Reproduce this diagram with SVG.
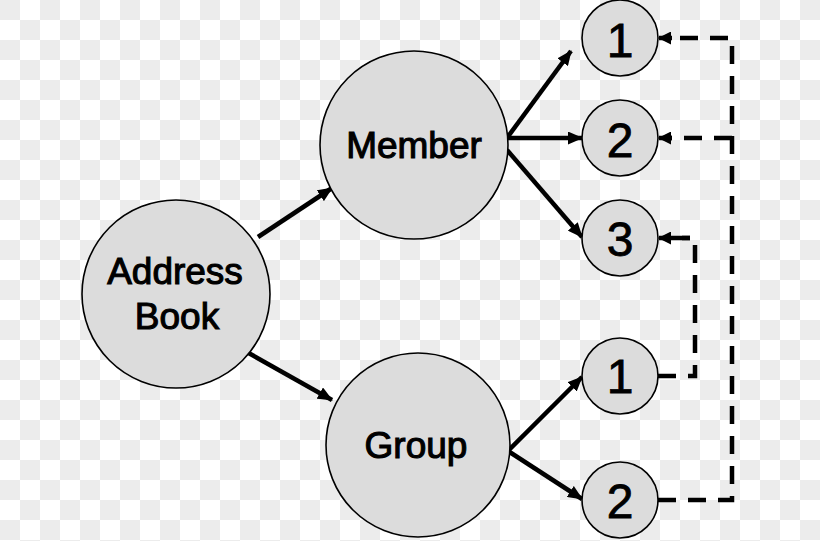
<svg xmlns="http://www.w3.org/2000/svg" width="820" height="541" viewBox="0 0 820 541">
<defs>
<pattern id="checker" x="0" y="0" width="40" height="40" patternUnits="userSpaceOnUse">
<rect width="40" height="40" fill="#ffffff"/>
<rect x="0" y="0" width="20" height="20" fill="#ececec"/>
<rect x="20" y="20" width="20" height="20" fill="#ececec"/>
</pattern>
<marker id="ah" markerWidth="15" markerHeight="13" refX="14" refY="6.5" orient="auto" markerUnits="userSpaceOnUse">
<path d="M0,0 L15,6.5 L0,13 Z" fill="#000"/>
</marker>
<marker id="ahd" markerWidth="13" markerHeight="13" refX="12" refY="6.5" orient="auto" markerUnits="userSpaceOnUse">
<path d="M0,0 L13,6.5 L0,13 Z" fill="#000"/>
</marker>
</defs>
<style>
.node circle{fill:#dcdcdc;stroke:#000;stroke-width:1.6}
.big{font-family:"Liberation Sans",Arial,sans-serif;font-size:37px;fill:#000;stroke:#000;stroke-width:1.1;text-anchor:middle}
.num{font-family:"Liberation Sans",Arial,sans-serif;font-size:48px;fill:#000;stroke:#000;stroke-width:0.8;text-anchor:middle}
.solid{stroke:#000;stroke-width:4.5;fill:none;marker-end:url(#ah)}
.dash{stroke:#000;stroke-width:4.5;fill:none;stroke-dasharray:18 12}
.dashend{stroke:#000;stroke-width:4.5;fill:none;marker-end:url(#ahd)}
</style>
<rect width="820" height="541" fill="url(#checker)"/>
<g id="connectors">
<line class="solid" x1="258" y1="237" x2="332" y2="188"/>
<line class="solid" x1="245" y1="351" x2="332" y2="400"/>
<line class="solid" x1="507" y1="138" x2="571" y2="51"/>
<line class="solid" x1="507" y1="138" x2="582" y2="138"/>
<line class="solid" x1="507" y1="150" x2="582" y2="237"/>
<line class="solid" x1="508" y1="451" x2="582" y2="377"/>
<line class="solid" x1="508" y1="451" x2="582" y2="499"/>
<path class="dash" d="M658,500 L732,500 L732,38 L670,38"/>
<path class="dash" d="M732,138 L670,138"/>
<path class="dash" d="M658,376 L695,376 L695,238 L682,238"/>
<line class="dashend" x1="672" y1="38" x2="659" y2="38"/>
<line class="dashend" x1="672" y1="138" x2="659" y2="138"/>
<line class="dashend" x1="690" y1="238" x2="659" y2="238"/>
</g>
<g id="address-book" class="node">
<circle cx="176" cy="294" r="94"/>
<text class="big" x="175" y="284">Address</text>
<text class="big" x="177" y="329">Book</text>
</g>
<g id="member" class="node">
<circle cx="414" cy="145" r="94"/>
<text class="big" x="414" y="158">Member</text>
</g>
<g id="group" class="node">
<circle cx="418" cy="445" r="92"/>
<text class="big" x="416" y="458">Group</text>
</g>
<g id="member-1" class="node">
<circle cx="620" cy="38" r="38"/>
<text class="num" x="620" y="57">1</text>
</g>
<g id="member-2" class="node">
<circle cx="620" cy="138" r="38"/>
<text class="num" x="620" y="157">2</text>
</g>
<g id="member-3" class="node">
<circle cx="620" cy="238" r="38"/>
<text class="num" x="620" y="256">3</text>
</g>
<g id="group-1" class="node">
<circle cx="620" cy="376" r="38"/>
<text class="num" x="620" y="393">1</text>
</g>
<g id="group-2" class="node">
<circle cx="620" cy="500" r="38"/>
<text class="num" x="620" y="518">2</text>
</g>
</svg>
